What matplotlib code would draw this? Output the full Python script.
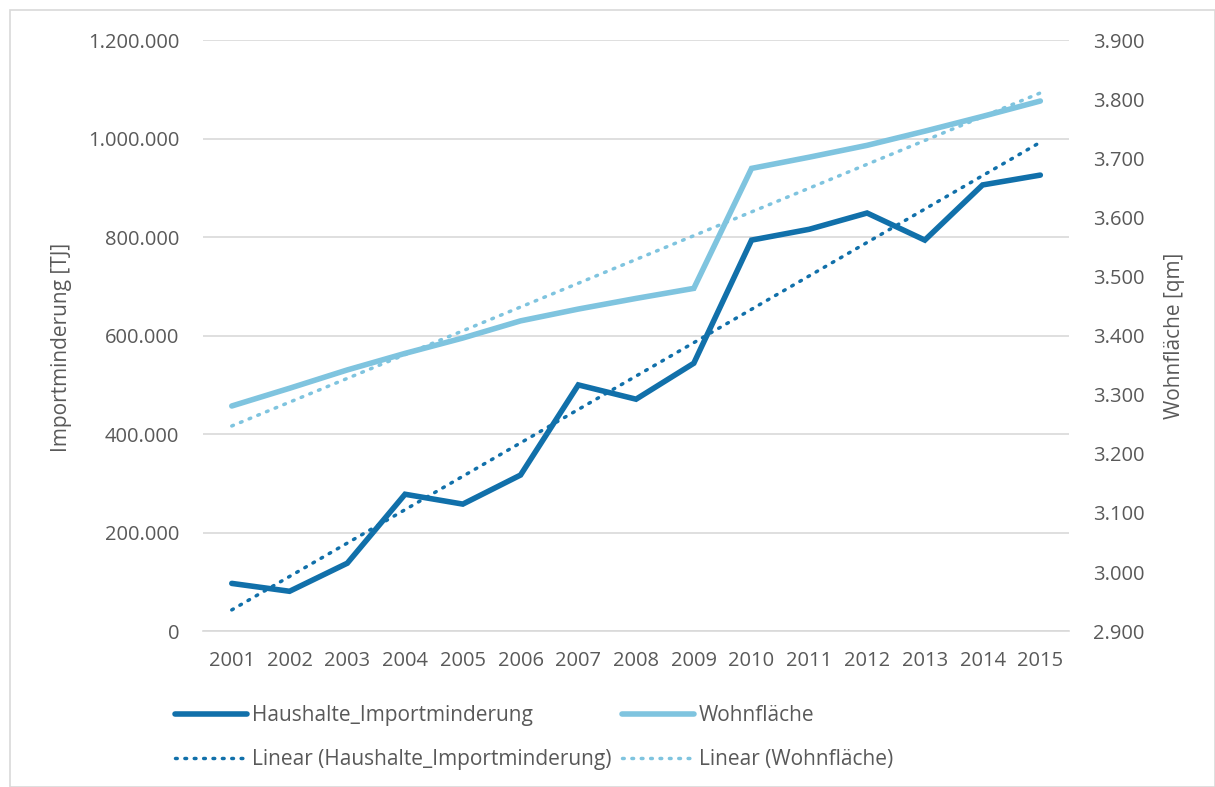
import numpy as np
import matplotlib.pyplot as plt
from matplotlib.ticker import FuncFormatter
from matplotlib.patches import Rectangle

plt.rcParams['font.family'] = ['Open Sans', 'DejaVu Sans']

jahre = [2001, 2002, 2003, 2004, 2005, 2006, 2007, 2008, 2009, 2010, 2011, 2012, 2013, 2014, 2015]
importminderung = [97000, 81000, 138000, 278000, 258000, 317000, 500000, 471000, 544000,
                   794000, 816000, 849000, 794000, 906000, 926000]
wohnflaeche = [3281, 3311, 3342, 3370, 3396, 3425, 3445, 3463, 3480,
               3683, 3702, 3722, 3746, 3771, 3797]

dunkel = '#1170aa'
hell = '#7fc4df'
grau = '#595959'

def punkte(v, pos):
    return f"{v:,.0f}".replace(",", ".")

fig = plt.figure(figsize=(12.15, 7.87), dpi=100)
ax = fig.add_axes([0.167, 0.198, 0.713, 0.751])
ax2 = ax.twinx()

x = np.arange(len(jahre))

# lineare Trends (wie Excel-Trendlinie)
k1 = np.polyfit(x, importminderung, 1)
k2 = np.polyfit(x, wohnflaeche, 1)

l1, = ax.plot(x, importminderung, color=dunkel, lw=4, solid_capstyle='round', solid_joinstyle='miter')
l3, = ax.plot(x, np.polyval(k1, x), color=dunkel, lw=2.5, linestyle=(0, (0.5, 2.2)), dash_capstyle='round')
l2, = ax2.plot(x, wohnflaeche, color=hell, lw=4, solid_capstyle='round', solid_joinstyle='miter')
l4, = ax2.plot(x, np.polyval(k2, x), color=hell, lw=2.5, linestyle=(0, (0.5, 2.2)), dash_capstyle='round')

ax.set_xlim(-0.5, len(jahre) - 0.5)
ax.set_ylim(0, 1200000)
ax.set_yticks(np.arange(0, 1200001, 200000))
ax.yaxis.set_major_formatter(FuncFormatter(punkte))
ax2.set_ylim(2900, 3900)
ax2.set_yticks(np.arange(2900, 3901, 100))
ax2.yaxis.set_major_formatter(FuncFormatter(punkte))

ax.set_xticks(x)
ax.set_xticklabels([str(j) for j in jahre])

ax.grid(axis='y', color='#d9d9d9', lw=1.2)
ax.set_axisbelow(True)
for a in (ax, ax2):
    for s in a.spines.values():
        s.set_visible(False)
    a.tick_params(length=0, labelsize=14.5, colors=grau)
ax.spines['bottom'].set_visible(True)
ax.spines['bottom'].set_color('#d9d9d9')
ax.spines['bottom'].set_linewidth(1.2)
ax.tick_params(axis='y', pad=17)
ax.tick_params(axis='x', pad=14)
ax2.tick_params(axis='y', pad=17)

ax.set_ylabel('Importminderung [TJ]', fontsize=15, color=grau)
ax2.set_ylabel('Wohnfläche [qm]', fontsize=15, color=grau)
ax.yaxis.set_label_coords(-0.151, 0.48)
ax2.yaxis.set_label_coords(1.109, 0.5)

leg = fig.legend([l1, l3, l2, l4],
                 ['Haushalte_Importminderung', 'Linear (Haushalte_Importminderung)',
                  'Wohnfläche', 'Linear (Wohnfläche)'],
                 ncol=2, loc='upper left', bbox_to_anchor=(0.144, 0.104), frameon=False,
                 borderpad=0, borderaxespad=0,
                 fontsize=15, handlelength=3.45, handletextpad=0.25, columnspacing=0.5,
                 labelspacing=1.1)
for t in leg.get_texts():
    t.set_color(grau)

fig.patches.append(Rectangle((10 / 1215, 0), 1 - 10 / 1215, 1 - 10 / 787, transform=fig.transFigure,
                             fill=False, edgecolor='#d9d9d9', lw=1.2))

fig.savefig('out.png', dpi=100)
